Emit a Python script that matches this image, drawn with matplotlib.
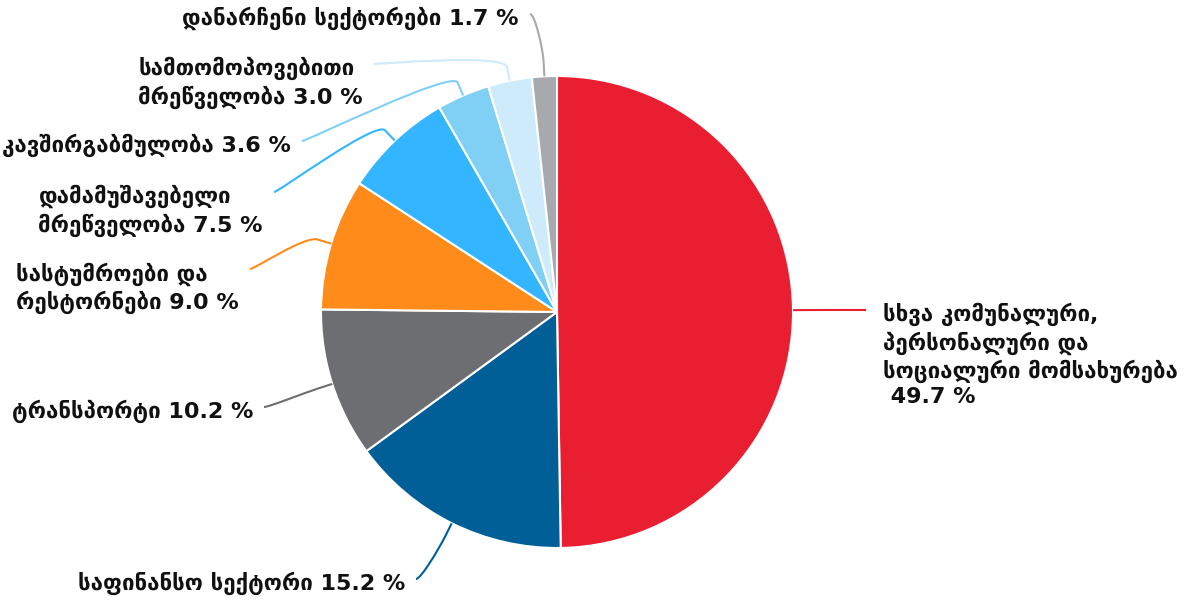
import matplotlib.pyplot as plt
from matplotlib.path import Path
from matplotlib.patches import PathPatch
import numpy as np

# data
sectors = [
    'სხვა კომუნალური,\nპერსონალური და\nსოციალური მომსახურება\n',
    'საფინანსო სექტორი',
    'ტრანსპორტი',
    'სასტუმროები და\nრესტორნები',
    'დამამუშავებელი\nმრეწველობა',
    'კავშირგაბმულობა',
    'სამთომოპოვებითი\nმრეწველობა',
    'დანარჩენი სექტორები',
]
shares = [49.7, 15.2, 10.2, 9.0, 7.5, 3.6, 3.0, 1.7]
colors = ['#e91e31', '#005f96', '#6d6e71', '#ff8c1a', '#33b5ff', '#80cff5', '#cdebfa', '#a7a9ac']

# label anchor points (pixel coords, y from top) where the connectors end
anchors = [(866, 310), (416, 579), (264, 407), (250, 269), (274, 192),
           (302, 141), (374, 64), (530, 14)]

W, H = 1193, 601
cx, cy, r = 557, H - 312, 236

plt.rcParams['font.family'] = ['DejaVu Sans']
fig = plt.figure(figsize=(W / 100, H / 100), dpi=100)
ax = fig.add_axes([0, 0, 1, 1])

wedges, _ = ax.pie(shares, colors=colors, startangle=90, counterclock=False,
                   center=(cx, cy), radius=r,
                   wedgeprops=dict(edgecolor='white', linewidth=1.5))
ax.set_xlim(0, W)
ax.set_ylim(0, H)
ax.axis('off')

for w, name, val, col, (lx, ly) in zip(wedges, sectors, shares, colors, anchors):
    mid = np.deg2rad((w.theta1 + w.theta2) / 2)
    touch = np.array([cx + r * np.cos(mid), cy + r * np.sin(mid)])
    brk = np.array([cx + (r + 14) * np.cos(mid), cy + (r + 14) * np.sin(mid)])
    lab = np.array([lx, H - ly])
    left = lab[0] < cx
    c1 = lab + np.array([5 if left else -5, 0])
    c2 = 2 * brk - touch
    path = Path([lab, c1, c2, brk, touch],
                [Path.MOVETO, Path.CURVE4, Path.CURVE4, Path.CURVE4, Path.LINETO])
    ax.add_patch(PathPatch(path, fill=False, edgecolor=col, lw=1.5))

    txt = name + ' {:.1f} %'.format(val)
    ty = H - (ly - 7)
    if left:
        ax.text(lx - 11, ty, txt, ha='right', va='top', multialignment='left',
                fontsize=16, fontweight='bold', color='#111111', linespacing=1.27)
    else:
        ax.text(lx + 17, ty, txt, ha='left', va='top', multialignment='left',
                fontsize=16, fontweight='bold', color='#111111', linespacing=1.27)

plt.savefig('out.png', dpi=100)
